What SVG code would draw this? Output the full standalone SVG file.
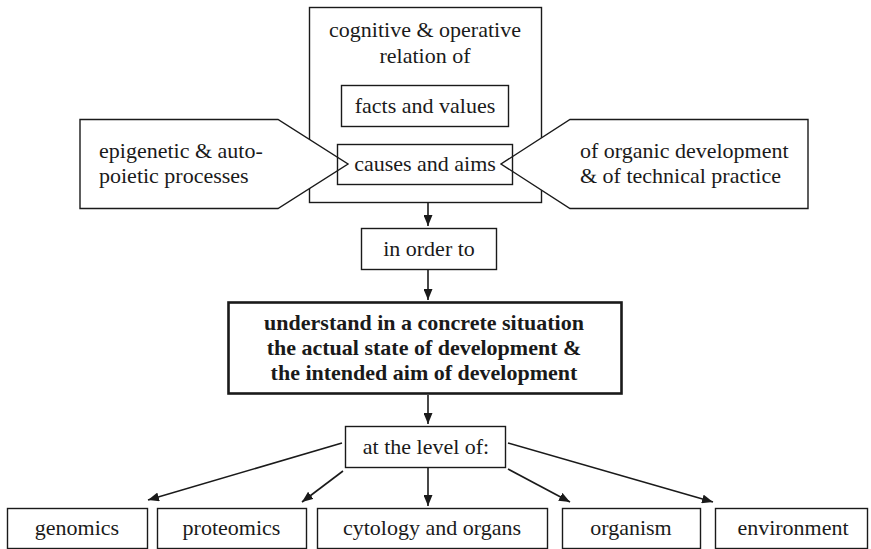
<svg xmlns="http://www.w3.org/2000/svg" width="871" height="549" viewBox="0 0 871 549">
<style>
  .box { fill: #ffffff; stroke: #1a1a1a; stroke-width: 1.4; }
  .open { fill: none; stroke: #1a1a1a; stroke-width: 1.4; }
  .bold { fill: #ffffff; stroke: #1a1a1a; stroke-width: 2.6; }
  .t { font-family: "Liberation Serif", "Times New Roman", serif; font-size: 22px; fill: #1a1a1a; }
  .c { text-anchor: middle; }
  .b { font-weight: bold; }
  .edge { fill: none; stroke: #1a1a1a; stroke-width: 1.6; marker-end: url(#arr); }
</style>
<defs>
  <marker id="arr" markerUnits="userSpaceOnUse" markerWidth="11" markerHeight="9" refX="11" refY="4.5" orient="auto">
    <path d="M0,0 L11,4.5 L0,9 z" fill="#1a1a1a"/>
  </marker>
</defs>
<rect width="871" height="549" fill="#ffffff"/>

<g id="relation">
  <rect class="box" x="309.5" y="7.5" width="232" height="195"/>
  <text class="t c" x="425" y="37">cognitive &amp; operative</text>
  <text class="t c" x="425" y="63">relation of</text>
</g>
<g id="facts">
  <rect class="box" x="341.5" y="85.5" width="167" height="41"/>
  <text class="t c" x="425" y="113">facts and values</text>
</g>
<g id="epigenetic">
  <polygon class="box" points="80,119.5 278,119.5 348,164 278,208.5 80,208.5"/>
  <text class="t" x="99" y="158">epigenetic &amp; auto-</text>
  <text class="t" x="99" y="183">poietic processes</text>
</g>
<g id="organic">
  <polygon class="box" points="808,119.5 570,119.5 501,164 570,208.5 808,208.5"/>
  <text class="t" x="580" y="158">of organic development</text>
  <text class="t" x="580" y="183">&amp; of technical practice</text>
</g>
<g id="causes">
  <rect class="open" x="337.5" y="144.5" width="175" height="40"/>
  <text class="t c" x="425" y="171">causes and aims</text>
</g>
<g id="inorder">
  <rect class="box" x="361.5" y="228.5" width="135" height="41"/>
  <text class="t c" x="429" y="256">in order to</text>
</g>
<g id="understand">
  <rect class="bold" x="228.5" y="302.5" width="393" height="91"/>
  <text class="t c b" x="424" y="330">understand in a concrete situation</text>
  <text class="t c b" x="424" y="355">the actual state of development &amp;</text>
  <text class="t c b" x="424" y="380">the intended aim of development</text>
</g>
<g id="level">
  <rect class="box" x="345.5" y="426.5" width="160" height="41"/>
  <text class="t c" x="426" y="454">at the level of:</text>
</g>
<g id="genomics">
  <rect class="box" x="7.5" y="508.5" width="140" height="40"/>
  <text class="t c" x="77" y="535">genomics</text>
</g>
<g id="proteomics">
  <rect class="box" x="157.5" y="508.5" width="149" height="40"/>
  <text class="t c" x="231.5" y="535">proteomics</text>
</g>
<g id="cytology">
  <rect class="box" x="317.5" y="508.5" width="230" height="40"/>
  <text class="t c" x="432" y="535">cytology and organs</text>
</g>
<g id="organism">
  <rect class="box" x="562.5" y="508.5" width="138" height="40"/>
  <text class="t c" x="631" y="535">organism</text>
</g>
<g id="environment">
  <rect class="box" x="715.5" y="508.5" width="152" height="40"/>
  <text class="t c" x="793" y="535">environment</text>
</g>

<g id="connectors">
  <line class="edge" x1="428" y1="203" x2="428" y2="226"/>
  <line class="edge" x1="428" y1="270" x2="428" y2="300"/>
  <line class="edge" x1="428" y1="395" x2="428" y2="424"/>
  <line class="edge" x1="428" y1="468" x2="428" y2="506"/>
  <line class="edge" x1="342" y1="443" x2="148" y2="500"/>
  <line class="edge" x1="343" y1="471" x2="302" y2="502"/>
  <line class="edge" x1="508" y1="469" x2="570" y2="502"/>
  <line class="edge" x1="508" y1="443" x2="713" y2="502"/>
</g>
</svg>
